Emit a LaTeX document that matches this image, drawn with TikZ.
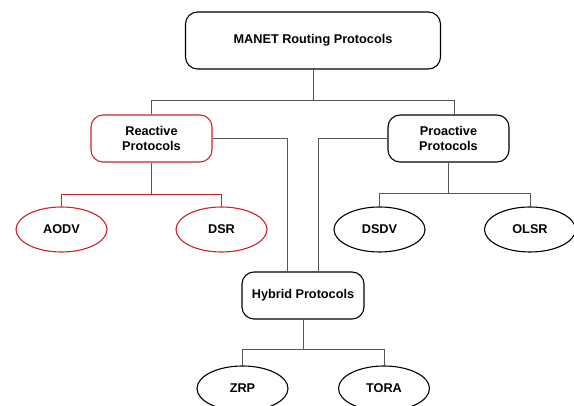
\documentclass[tikz,border=0pt]{standalone}
\usepackage{fontspec}
\setmainfont{Liberation Sans}
\usetikzlibrary{shapes.geometric}
\definecolor{myred}{RGB}{204,34,40}
\definecolor{linkgray}{RGB}{85,85,85}
\begin{document}
\begin{tikzpicture}[x=1pt,y=-1pt,
  txt/.style={font=\fontsize{12.7}{15.5}\selectfont\bfseries, align=center, inner sep=0pt},
  box/.style={txt, draw=black, line width=1.1pt, rounded corners=12pt},
  leaf/.style={txt, ellipse, draw=black, line width=1.1pt, minimum width=91pt, minimum height=45pt},
  link/.style={draw=linkgray, line width=0.9pt},
  redlink/.style={draw=myred, line width=0.9pt}]
\useasboundingbox (0,0) rectangle (574,406);
\node[box, minimum width=255pt, minimum height=57pt] (root) at (313,40.5) {MANET Routing Protocols};
\node[box, draw=myred, minimum width=121pt, minimum height=47pt] (react) at (151.5,138.5) {Reactive\\Protocols};
\node[box, minimum width=121pt, minimum height=47pt] (pro) at (448.5,138.5) {Proactive\\Protocols};
\node[box, minimum width=122pt, minimum height=47pt] (hyb) at (303,295.5) {Hybrid Protocols};
\node[leaf, draw=myred] (aodv) at (61.5,229.5) {AODV};
\node[leaf, draw=myred] (dsr) at (221.5,229.5) {DSR};
\node[leaf] (dsdv) at (379.5,229.5) {DSDV};
\node[leaf] (olsr) at (530,229.5) {OLSR};
\node[leaf] (zrp) at (242.5,388.5) {ZRP};
\node[leaf] (tora) at (384,388.5) {TORA};
% root split
\coordinate (j1) at (313,100);
\draw[link] (root.south) -- (j1);
\draw[link] (react.north) |- ([xshift=5.5pt]pro.north |- j1) -- ([xshift=5.5pt]pro.north);
% to hybrid
\draw[link] (react.east) -| ([xshift=-16pt]hyb.north);
\draw[link] (pro.west) -| ([xshift=15pt]hyb.north);
% reactive children
\draw[redlink] (react.south) -- ++(0,32) coordinate (rj);
\draw[redlink] (aodv.north) |- (rj) -| (dsr.north);
% proactive children
\draw[link] (pro.south) -- ++(0,31) coordinate (pj);
\draw[link] (dsdv.north) |- (pj) -| (olsr.north);
% hybrid children
\draw[link] (hyb.south) -- ++(0,30) coordinate (hj);
\draw[link] (zrp.north) |- (hj) -| (tora.north);
\end{tikzpicture}
\end{document}
